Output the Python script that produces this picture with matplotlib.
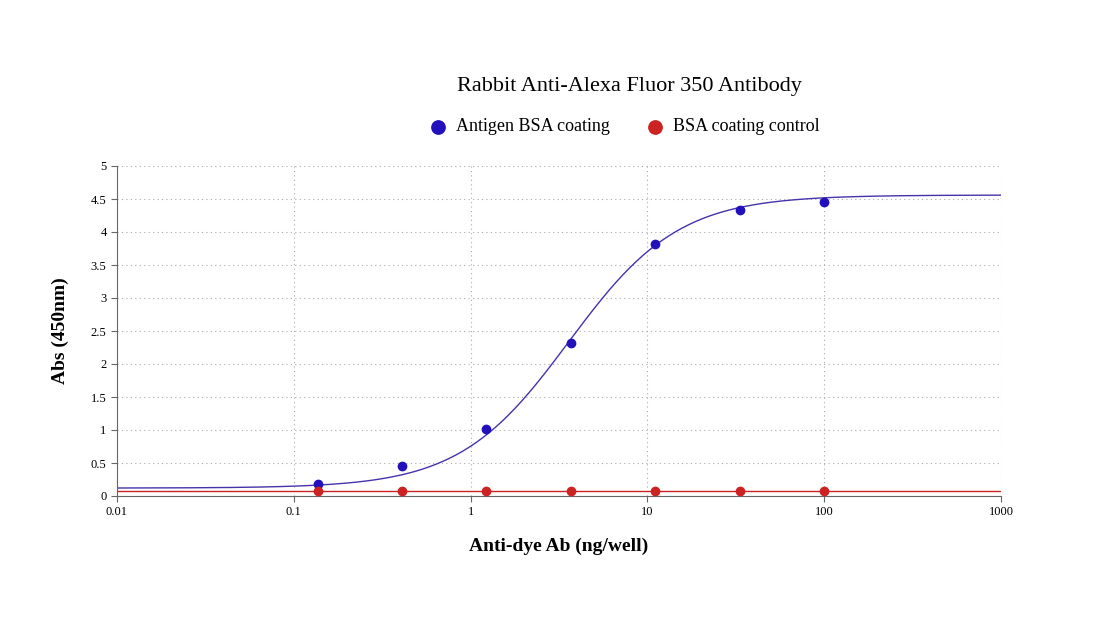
import numpy as np
import matplotlib
matplotlib.use("Agg")
import matplotlib.pyplot as plt

conc = [0.137, 0.41, 1.23, 3.7, 11.1, 33.3, 100]
antigen = [0.18, 0.45, 1.02, 2.32, 3.82, 4.34, 4.45]
control = [0.08, 0.08, 0.08, 0.08, 0.08, 0.08, 0.08]
# fitted 4PL parameters (bottom, top, ec50, hill)
fit_antigen = (0.12, 4.56, 3.6, 1.4)
fit_control = (0.08, 0.08, 3.8, 1.0)
xticks = [0.01, 0.1, 1, 10, 100, 1000]
xticklabels = ["0.01", "0.1", "1", "10", "100", "1000"]
yticks = [0, 0.5, 1, 1.5, 2, 2.5, 3, 3.5, 4, 4.5, 5]

def fourpl(x, p):
    b, t, c, h = p
    return b + (t - b) / (1 + (c / x) ** h)

plt.rcParams['font.family'] = ['Liberation Serif', 'DejaVu Serif']
fig = plt.figure(figsize=(10.98, 6.37), dpi=100)
ax = fig.add_axes([117/1098, 1-496/637, (1001-117)/1098, (496-166)/637])
xs = np.logspace(-2, 3, 400)
blue = '#2211bb'; red = '#cc2222'
ax.plot(xs, fourpl(xs, fit_antigen), color='#4433aa', lw=1)
ax.plot(xs, fourpl(xs, fit_control), color=red, lw=1)
ax.scatter(conc, antigen, color=blue, s=36, zorder=3, label='Antigen BSA coating')
ax.scatter(conc, control, color=red, s=36, zorder=3, label='BSA coating control')
ax.set_xscale('log')
ax.set_xlim(0.01, 1000); ax.set_ylim(0, 5)
ax.set_xticks(xticks); ax.set_xticklabels(xticklabels)
ax.minorticks_off()
ax.set_yticks(yticks); ax.set_yticklabels([f"{v:g}" for v in yticks])
ax.tick_params(labelsize=9, length=4, color='#666666')
ax.grid(True, linestyle=(0, (1, 3)), color='#aaaaaa', lw=0.8)
for s in ['top', 'right']:
    ax.spines[s].set_visible(False)
for s in ['left', 'bottom']:
    ax.spines[s].set_color('#666666')
ax.set_xlabel('Anti-dye Ab (ng/well)', fontsize=14, fontweight='bold', labelpad=14)
ax.set_ylabel('Abs (450nm)', fontsize=14, fontweight='bold', labelpad=16)
fig.text(629/1098, 1-87/637, 'Rabbit Anti-Alexa Fluor 350 Antibody', ha='center', va='center', fontsize=16)
fig.legend(loc='center', bbox_to_anchor=(620/1098, 1-127/637), ncol=2, frameon=False,
           fontsize=13, handletextpad=0.0, columnspacing=1.5, markerscale=1.6)
fig.savefig('out.png', dpi=100)
